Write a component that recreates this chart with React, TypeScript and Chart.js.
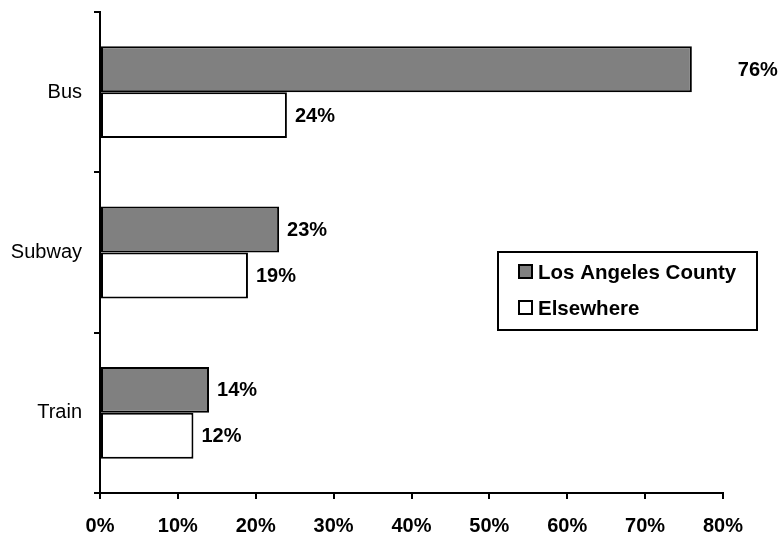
import { useEffect, useRef } from "react";
import { Chart, registerables } from "chart.js";

Chart.register(...registerables);

// Share of riders by travel mode
const modes = ["Bus", "Subway", "Train"];
const losAngelesCounty = [76, 23, 14];
const elsewhere = [24, 19, 12];
const seriesNames = ["Los Angeles County", "Elsewhere"];
const seriesFills = ["#808080", "#ffffff"];
const axisMax = 80;
const axisStep = 10;

const FONT = '"Liberation Sans", Arial, Helvetica, sans-serif';

// extra horizontal gap for individual value labels, keyed "dataset:index"
const labelNudge: Record<string, number> = { "0:0": 38 };

const valueLabels = {
  id: "valueLabels",
  afterDatasetsDraw(chart: any) {
    const { ctx } = chart;
    ctx.save();
    ctx.font = `bold 20px ${FONT}`;
    ctx.fillStyle = "#000";
    ctx.textAlign = "left";
    ctx.textBaseline = "middle";
    chart.data.datasets.forEach((ds: any, di: number) => {
      const meta = chart.getDatasetMeta(di);
      meta.data.forEach((bar: any, i: number) => {
        const v = ds.data[i];
        const extra = labelNudge[`${di}:${i}`] || 0;
        ctx.fillText(`${v}%`, bar.x + 8 + extra, bar.y + 1);
      });
    });
    ctx.restore();
  },
};

const boxLegend = {
  id: "boxLegend",
  afterDraw(chart: any) {
    const { ctx, chartArea } = chart;
    const left = chartArea.right - 225;
    const top = chartArea.top + 240;
    const w = 259;
    const h = 78;
    ctx.save();
    ctx.fillStyle = "#fff";
    ctx.fillRect(left, top, w, h);
    ctx.lineWidth = 2;
    ctx.strokeStyle = "#000";
    ctx.strokeRect(left, top, w, h);
    ctx.font = `bold 20.5px ${FONT}`;
    ctx.textBaseline = "middle";
    ctx.textAlign = "left";
    seriesNames.forEach((name, i) => {
      const cy = top + 20 + i * 36;
      ctx.fillStyle = seriesFills[i];
      ctx.fillRect(left + 21, cy - 7, 13, 13);
      ctx.lineWidth = 2;
      ctx.strokeStyle = "#000";
      ctx.strokeRect(left + 21, cy - 7, 13, 13);
      ctx.fillStyle = "#000";
      ctx.fillText(name, left + 40, cy + 1);
    });
    ctx.restore();
  },
};

export default function App() {
  const canvasRef = useRef<HTMLCanvasElement | null>(null);

  useEffect(() => {
    if (!canvasRef.current) return;
    const chart = new Chart(canvasRef.current, {
      type: "bar",
      data: {
        labels: modes,
        datasets: [
          {
            label: seriesNames[0],
            data: losAngelesCounty,
            backgroundColor: seriesFills[0],
            borderColor: "#000",
            borderWidth: 2,
            borderSkipped: false,
          },
          {
            label: seriesNames[1],
            data: elsewhere,
            backgroundColor: seriesFills[1],
            borderColor: "#000",
            borderWidth: 2,
            borderSkipped: false,
          },
        ],
      },
      options: {
        indexAxis: "y",
        responsive: true,
        maintainAspectRatio: false,
        animation: false,
        datasets: {
          bar: { categoryPercentage: 0.573, barPercentage: 1.0 },
        },
        layout: { padding: { top: 12, right: 60, left: 0, bottom: 0 } },
        plugins: {
          legend: { display: false },
          tooltip: { enabled: false },
        },
        scales: {
          x: {
            min: 0,
            max: axisMax,
            afterFit(scale: any) {
              scale.height = 42;
              scale.paddingLeft = 0;
              scale.paddingRight = 0;
            },
            border: { display: true, color: "#000", width: 2 },
            grid: {
              drawOnChartArea: false,
              drawTicks: true,
              tickLength: 6,
              color: "#000",
              lineWidth: 2,
            },
            ticks: {
              stepSize: axisStep,
              color: "#000",
              padding: 15,
              font: { family: FONT, size: 20, weight: "bold" },
              callback: (v: any) => `${v}%`,
            },
          },
          y: {
            afterFit(scale: any) {
              scale.width = 100;
              scale.paddingTop = 0;
              scale.paddingBottom = 0;
            },
            border: { display: true, color: "#000", width: 2 },
            grid: {
              offset: true,
              drawOnChartArea: false,
              drawTicks: true,
              tickLength: 6,
              color: "#000",
              lineWidth: 2,
            },
            ticks: {
              color: "#000",
              padding: 12,
              font: { family: FONT, size: 20 },
            },
          },
        },
      },
      plugins: [valueLabels, boxLegend],
    });
    return () => chart.destroy();
  }, []);

  return (
    <div
      style={{
        position: "fixed",
        left: 0,
        top: 0,
        width: 783,
        height: 535,
        background: "#fff",
      }}
    >
      <canvas ref={canvasRef} />
    </div>
  );
}
